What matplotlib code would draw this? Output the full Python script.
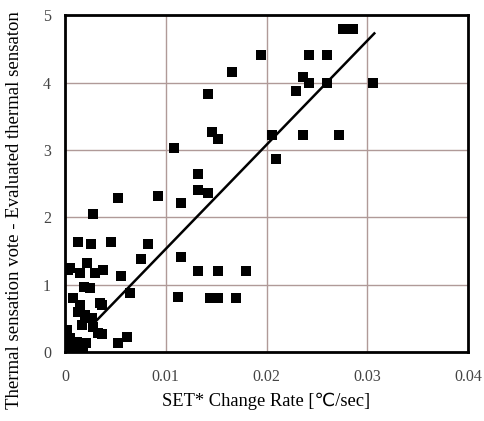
import matplotlib.pyplot as plt
import numpy as np

# SET* change rate [degC/sec] vs. TSV - evaluated thermal sensation
rate = [0.0276, 0.0286, 0.0195, 0.0242, 0.0260, 0.0236, 0.0242, 0.0260, 0.0306,
        0.0229, 0.0205, 0.0236, 0.0272, 0.0209,
        0.0166, 0.0142, 0.0146, 0.0152, 0.0108, 0.0132, 0.0132, 0.0142, 0.0092,
        0.0115, 0.0053, 0.0028,
        0.0013, 0.0026, 0.0046, 0.0082, 0.0075, 0.0115, 0.0132, 0.0152, 0.0180,
        0.0112, 0.0144, 0.0152, 0.0170, 0.0056, 0.0065, 0.0037, 0.0053, 0.0062,
        0.0037,
        0.0005, 0.0022, 0.0015, 0.0030, 0.0038, 0.0019, 0.0025, 0.0008, 0.0015,
        0.0013, 0.0035, 0.0020, 0.0027, 0.0017, 0.0028, 0.0033, 0.0002, 0.0005,
        0.0012, 0.0002, 0.0010, 0.0018, 0.0021, 0.0000, 0.0003]
vote = [4.79, 4.79, 4.41, 4.41, 4.41, 4.08, 4.00, 4.00, 4.00,
        3.87, 3.22, 3.22, 3.22, 2.86,
        4.15, 3.83, 3.26, 3.16, 3.03, 2.64, 2.40, 2.36, 2.31,
        2.21, 2.28, 2.05,
        1.63, 1.60, 1.63, 1.60, 1.38, 1.41, 1.20, 1.20, 1.20,
        0.82, 0.80, 0.80, 0.80, 1.13, 0.87, 0.70, 0.13, 0.22,
        0.27,
        1.25, 1.32, 1.17, 1.17, 1.22, 0.96, 0.95, 0.80, 0.70,
        0.60, 0.73, 0.55, 0.50, 0.40, 0.37, 0.28, 0.33, 0.21,
        0.15, 0.07, 0.03, 0.04, 0.13, 0.10, 1.22]

# regression line
fit_x = [0.0027, 0.0307]
slope = 154.6
icpt = -0.017

fig = plt.figure(figsize=(4.85, 4.21), dpi=100)
ax = fig.add_axes([0.134, 0.164, 0.831, 0.800])

ax.grid(True, color='#b09a98', linewidth=1.0)
ax.set_axisbelow(True)
ax.scatter(rate, vote, marker='s', s=58, color='black', zorder=3, linewidths=0)
fx = np.array(fit_x)
ax.plot(fx, slope * fx + icpt, color='black', linewidth=1.8, zorder=4)

ax.set_xlim(0, 0.04)
ax.set_ylim(0, 5)
ax.set_xticks([0, 0.01, 0.02, 0.03, 0.04])
ax.set_xticklabels(['0', '0.01', '0.02', '0.03', '0.04'])
ax.set_yticks([0, 1, 2, 3, 4, 5])
ax.tick_params(axis='x', length=0, pad=12, labelsize=11.5, labelcolor='#444444')
ax.tick_params(axis='y', length=0, pad=10, labelsize=11.5, labelcolor='#444444')
for lab in ax.get_xticklabels() + ax.get_yticklabels():
    lab.set_family('Liberation Serif')

for sp in ax.spines.values():
    sp.set_linewidth(2.0)
    sp.set_color('black')

fam = ['Liberation Serif', 'DejaVu Sans']
ax.set_xlabel('SET* Change Rate [℃/sec]', family=fam, fontsize=13.3, labelpad=6)
ax.set_ylabel('Thermal sensation vote - Evaluated thermal sensaton',
              family=fam, fontsize=13.5, labelpad=6)
ax.yaxis.set_label_coords(-0.105, 0.42)

fig.savefig('out.png', dpi=100)
